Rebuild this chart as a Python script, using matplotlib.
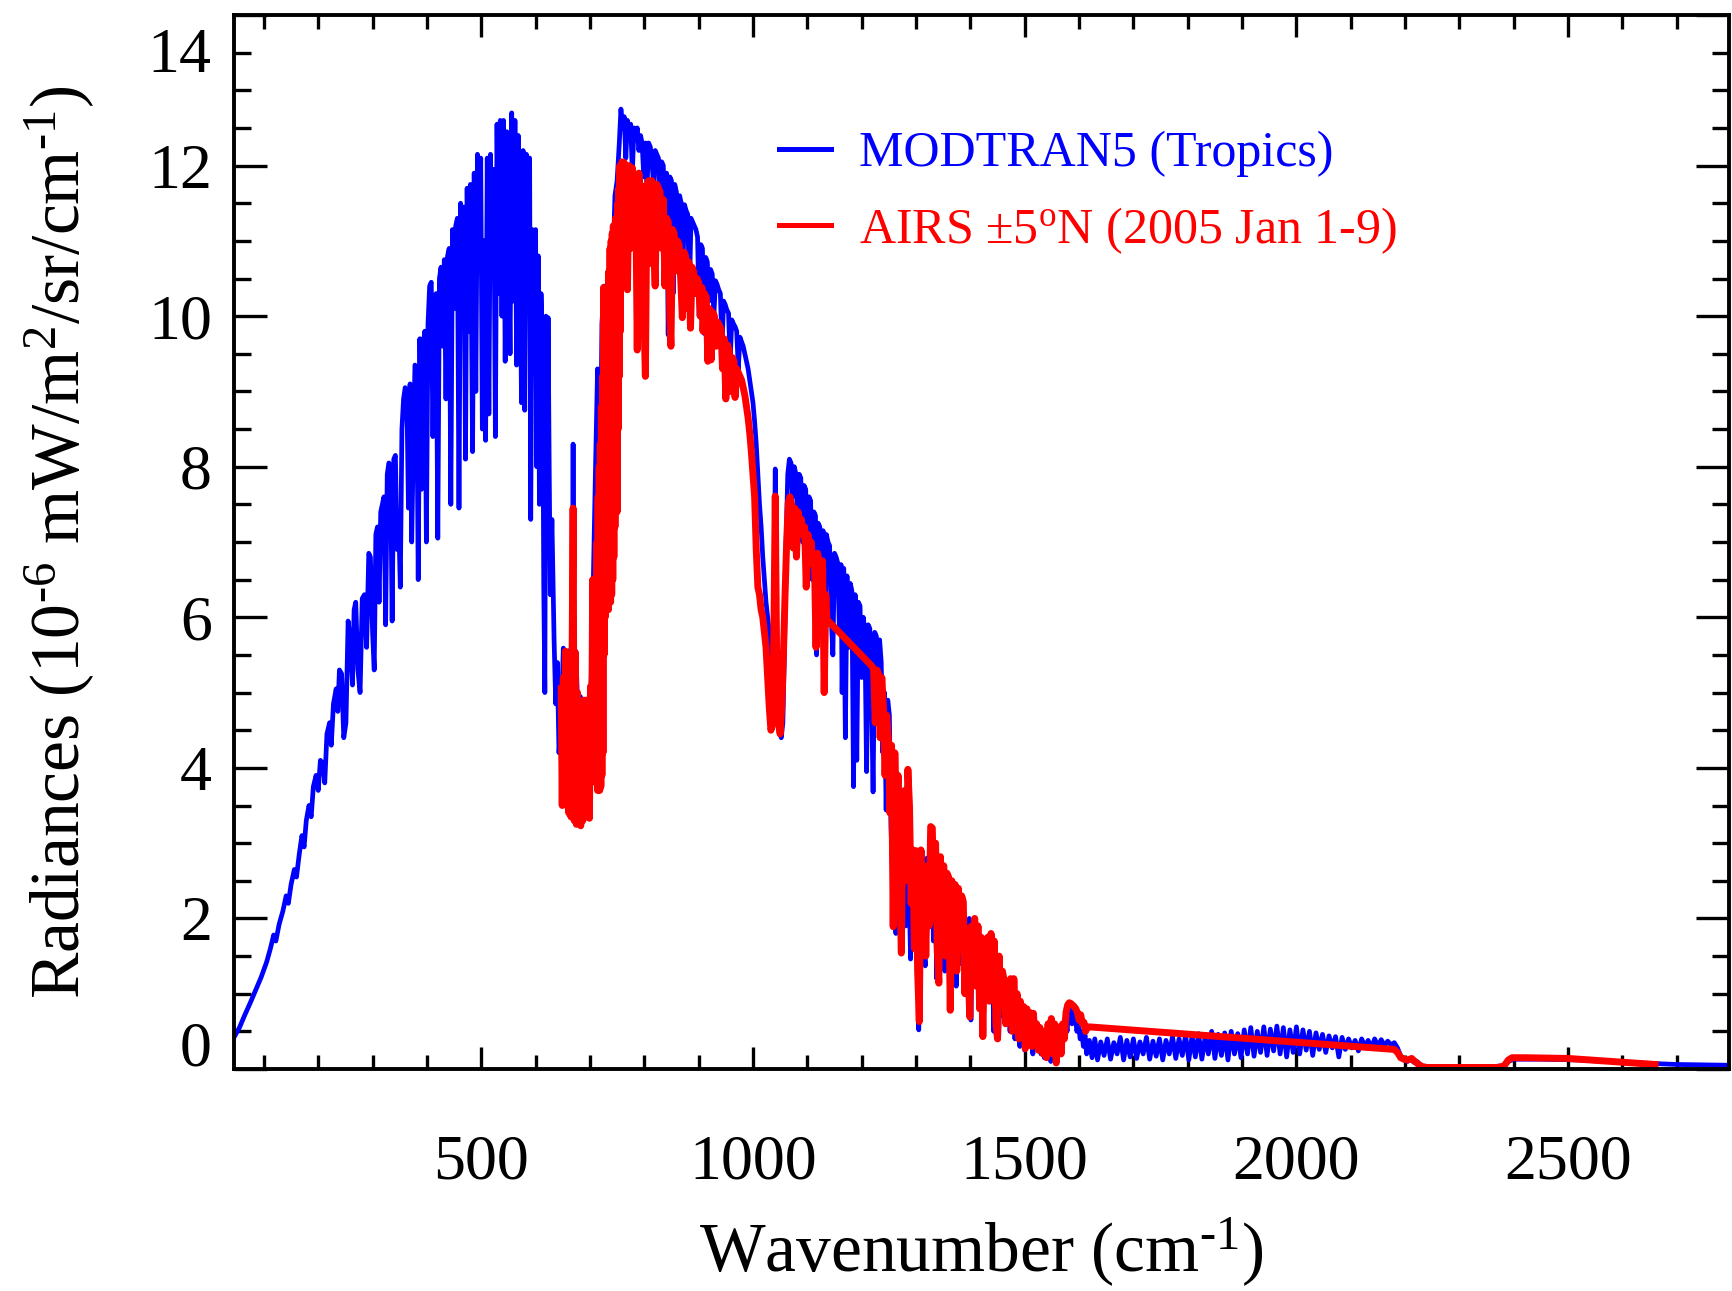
import matplotlib
matplotlib.use('Agg')
import matplotlib.pyplot as plt
from matplotlib.ticker import MultipleLocator
from matplotlib.transforms import ScaledTranslation

plt.rcParams['font.family'] = ['Liberation Serif', 'DejaVu Serif']
plt.rcParams['mathtext.fontset'] = 'custom'
plt.rcParams['mathtext.rm'] = 'Liberation Serif'
plt.rcParams['mathtext.it'] = 'Liberation Serif:italic'
plt.rcParams['mathtext.bf'] = 'Liberation Serif:bold'

# ---------------- data ----------------
modtran_wavenumber = [
    45, 55, 65, 75, 85, 95, 105, 112, 118, 122,
    128, 135, 141, 145, 150, 156, 160, 165, 170, 174,
    178, 183, 187, 191, 196, 200, 204, 209, 212, 216,
    221, 224, 228, 233, 236, 239, 243, 247, 251, 255,
    259, 263, 266, 269, 273, 277, 281, 285, 289, 293,
    296, 300, 303, 306, 309, 312, 315, 318, 321, 324,
    327, 330, 333, 336, 339, 342, 345, 348, 351, 354,
    357, 360, 363, 366, 369, 372, 375, 378, 381, 384,
    387, 390, 393, 396, 399, 402, 405, 408, 411, 414,
    417, 420, 423, 426, 429, 432, 435, 438, 441, 444,
    447, 450, 453, 456, 459, 462, 465, 468, 471, 474,
    477, 480, 484, 487, 490, 493, 496, 499, 502, 505,
    508, 511, 514, 517, 520, 523, 526, 529, 532, 535,
    538, 541, 544, 547, 550, 553, 556, 559, 562, 565,
    568, 571, 574, 577, 580, 583, 586, 589, 591, 594,
    597, 600, 602, 605, 607, 610, 613, 615, 617, 619,
    621, 623, 625, 627, 630, 634, 637, 640, 643, 647,
    651, 656, 660, 664, 667, 669, 671, 674, 678, 682,
    686, 690, 694, 698, 702, 706, 710, 714, 718, 722,
    726, 730, 734, 738, 742, 746, 750, 754, 757, 760,
    763, 766, 769, 772, 775, 778, 781, 784, 787, 790,
    793, 796, 799, 802, 805, 808, 811, 814, 817, 820,
    823, 826, 829, 832, 835, 838, 841, 844, 847, 850,
    853, 856, 859, 862, 865, 868, 871, 874, 877, 880,
    883, 886, 889, 892, 895, 898, 901, 904, 907, 910,
    913, 916, 919, 922, 925, 928, 931, 934, 937, 940,
    943, 946, 949, 952, 955, 958, 961, 964, 967, 970,
    973, 976, 979, 982, 985, 988, 991, 994, 997, 1000,
    1003, 1006, 1009, 1012, 1015, 1018, 1021, 1024, 1027, 1030,
    1033, 1036, 1039, 1041, 1043, 1046, 1049, 1052, 1055, 1058,
    1061, 1064, 1067, 1070, 1073, 1076, 1079, 1082, 1085, 1088,
    1091, 1094, 1097, 1100, 1103, 1106, 1109, 1112, 1115, 1117,
    1120, 1123, 1126, 1129, 1132, 1135, 1138, 1141, 1144, 1147,
    1150, 1153, 1156, 1159, 1162, 1164, 1167, 1170, 1173, 1176,
    1179, 1182, 1185, 1188, 1191, 1194, 1197, 1200, 1203, 1206,
    1209, 1212, 1215, 1218, 1221, 1224, 1227, 1230, 1233, 1236,
    1239, 1242, 1245, 1248, 1251, 1254, 1257, 1260, 1263, 1266,
    1269, 1272, 1275, 1278, 1281, 1284, 1287, 1290, 1293, 1296,
    1299, 1302, 1305, 1308, 1311, 1314, 1317, 1320, 1323, 1326,
    1329, 1332, 1335, 1338, 1341, 1344, 1347, 1350, 1353, 1356,
    1359, 1362, 1365, 1368, 1371, 1374, 1377, 1380, 1383, 1386,
    1389, 1392, 1395, 1398, 1401, 1404, 1407, 1410, 1413, 1416,
    1419, 1422, 1425, 1428, 1431, 1434, 1437, 1440, 1443, 1446,
    1449, 1452, 1455, 1458, 1461, 1464, 1467, 1470, 1473, 1476,
    1479, 1482, 1485, 1488, 1491, 1494, 1497, 1500, 1503, 1506,
    1509, 1512, 1515, 1518, 1521, 1524, 1527, 1530, 1533, 1536,
    1539, 1542, 1545, 1548, 1551, 1554, 1557, 1560, 1563, 1566,
    1569, 1572, 1575, 1578, 1581, 1584, 1587, 1590, 1593, 1596,
    1599, 1602, 1605, 1608, 1611, 1614, 1619, 1624, 1629, 1634,
    1640, 1646, 1652, 1658, 1664, 1670, 1676, 1682, 1688, 1694,
    1700, 1706, 1712, 1718, 1724, 1730, 1736, 1742, 1748, 1754,
    1760, 1766, 1772, 1778, 1784, 1790, 1796, 1802, 1808, 1814,
    1820, 1826, 1832, 1838, 1844, 1850, 1856, 1862, 1868, 1874,
    1880, 1886, 1892, 1898, 1904, 1910, 1916, 1922, 1928, 1934,
    1940, 1946, 1952, 1958, 1964, 1970, 1976, 1982, 1988, 1994,
    2000, 2006, 2012, 2018, 2024, 2030, 2036, 2042, 2048, 2054,
    2060, 2066, 2072, 2078, 2084, 2090, 2096, 2102, 2108, 2114,
    2120, 2126, 2132, 2138, 2144, 2150, 2156, 2162, 2168, 2174,
    2180, 2186, 2192, 2198, 2204, 2210, 2216, 2222, 2230, 2250,
    2300, 2350, 2380, 2390, 2400, 2450, 2520, 2600, 2700, 2796,
]
modtran_radiance = [
    0.42, 0.55, 0.72, 0.88, 1.05, 1.22, 1.42, 1.6, 1.78, 1.7,
    1.92, 2.1, 2.3, 2.2, 2.45, 2.65, 2.55, 2.85, 3.1, 2.95,
    3.3, 3.5, 3.35, 3.75, 3.9, 3.7, 4.1, 4.05, 3.8, 4.45,
    4.6, 4.3, 4.85, 5.05, 4.75, 5.3, 5.25, 4.4, 4.6, 5.95,
    5.7, 5.1, 6.1, 6.2, 5.3, 5.0, 6.25, 6.3, 5.6, 6.85,
    6.8, 5.8, 5.3, 7.1, 7.2, 6.2, 7.4, 7.5, 7.6, 5.9,
    7.9, 8.05, 8.0, 5.95, 8.1, 8.15, 6.9, 7.3, 6.4, 8.5,
    8.9, 9.05, 9.0, 7.45, 9.1, 7.0, 8.3, 9.35, 9.3, 6.5,
    9.7, 7.7, 9.6, 9.8, 7.0, 9.9, 10.4, 10.45, 8.4, 10.2,
    10.3, 7.05, 10.5, 10.65, 9.6, 10.75, 8.9, 10.8, 10.9, 7.5,
    11.15, 10.1, 11.2, 11.3, 7.45, 11.5, 10.4, 11.45, 8.1, 11.7,
    9.8, 11.75, 8.2, 11.9, 9.0, 12.15, 10.6, 12.1, 8.5, 11.0,
    8.35, 12.1, 8.7, 12.15, 10.5, 11.95, 8.4, 12.55, 10.3, 12.6,
    10.0, 12.6, 9.4, 12.45, 11.2, 9.5, 12.7, 10.2, 12.6, 9.35,
    12.4, 11.5, 8.85, 12.2, 8.75, 12.15, 10.9, 12.1, 7.3, 11.15,
    9.6, 11.15, 8.0, 10.8, 7.5, 10.3, 9.4, 6.4, 5.0, 10.0,
    6.9, 9.98, 8.0, 6.3, 7.3, 5.7, 4.85, 5.4, 4.2, 4.6,
    5.59, 5.5, 5.3, 5.57, 5.0, 8.3, 5.2, 5.55, 4.7, 4.95,
    4.1, 4.9, 4.4, 3.9, 5.1, 6.4, 7.9, 9.3, 7.0, 9.9,
    10.4, 9.3, 10.2, 11.0, 10.6, 11.6, 11.8, 12.3, 12.75, 12.5,
    12.65, 12.1, 12.6, 12.45, 12.55, 11.9, 12.5, 12.35, 12.5, 12.2,
    12.4, 12.3, 11.85, 12.3, 11.7, 12.3, 12.25, 12.1, 11.7, 12.2,
    12.15, 12.1, 11.3, 12.05, 12.0, 11.0, 11.9, 9.75, 11.85, 11.8,
    10.3, 11.75, 11.65, 10.9, 11.6, 11.5, 10.6, 11.48, 11.4, 11.35,
    10.3, 11.3, 11.25, 11.2, 11.15, 11.05, 10.0, 10.95, 10.9, 9.77,
    10.78, 10.72, 10.2, 10.62, 10.56, 10.0, 10.47, 10.42, 10.35, 10.3,
    9.6, 10.2, 10.15, 10.08, 10.04, 9.4, 9.95, 9.9, 9.86, 9.8,
    9.3, 9.72, 9.66, 9.6, 9.5, 9.4, 9.3, 9.15, 9.0, 8.85,
    8.6, 8.3, 7.9, 7.5, 7.2, 6.8, 6.5, 6.2, 6.0, 5.8,
    5.3, 5.0, 6.5, 7.97, 6.2, 4.9, 4.5, 4.4, 4.6, 5.6,
    7.0, 7.9, 8.1, 8.05, 7.6, 8.0, 7.9, 7.3, 7.9, 7.85,
    7.0, 7.75, 7.7, 6.8, 7.6, 7.55, 6.5, 7.4, 7.35, 5.5,
    7.25, 7.2, 6.3, 7.15, 5.3, 7.1, 7.0, 6.95, 6.0, 5.5,
    6.85, 6.8, 6.72, 5.8, 6.7, 5.0, 6.65, 4.4, 6.55, 5.6,
    6.45, 6.35, 3.75, 6.3, 4.1, 6.2, 6.15, 5.2, 6.0, 5.8,
    3.95, 5.9, 5.85, 5.0, 3.68, 5.8, 5.75, 4.8, 5.7, 5.4,
    4.2, 5.0, 3.44, 4.9, 4.7, 3.2, 2.6, 4.2, 1.8, 3.6,
    3.4, 2.2, 3.3, 3.35, 1.9, 3.67, 2.5, 1.46, 2.9, 2.8,
    1.8, 2.7, 0.52, 2.0, 2.9, 1.6, 1.37, 2.8, 2.2, 3.1,
    3.2, 1.7, 2.9, 1.2, 2.6, 2.8, 1.5, 2.6, 1.3, 2.5,
    2.4, 0.78, 2.3, 1.9, 2.35, 1.1, 2.3, 2.2, 1.4, 2.2,
    1.5, 1.8, 1.0, 2.0, 0.65, 1.9, 1.95, 1.2, 1.9, 0.8,
    1.7, 0.45, 1.7, 1.3, 1.6, 0.9, 1.7, 1.75, 0.5, 1.5,
    1.4, 0.4, 1.2, 1.1, 0.7, 1.15, 0.8, 1.1, 0.5, 1.0,
    1.05, 0.4, 0.85, 0.6, 0.3, 0.8, 0.7, 0.25, 0.7, 0.3,
    0.6, 0.65, 0.2, 0.55, 0.3, 0.5, 0.56, 0.2, 0.45, 0.15,
    0.4, 0.3, 0.6, 0.1, 0.55, 0.3, 0.1, 0.45, 0.2, 0.5,
    0.3, 0.6, 0.7, 0.5, 0.8, 0.75, 0.6, 0.8, 0.7, 0.5,
    0.6, 0.4, 0.5, 0.3, 0.45, 0.2, 0.38, 0.15, 0.4, 0.12,
    0.36, 0.18, 0.4, 0.13, 0.35, 0.2, 0.42, 0.12, 0.38, 0.16,
    0.4, 0.14, 0.36, 0.2, 0.42, 0.13, 0.37, 0.17, 0.4, 0.12,
    0.38, 0.2, 0.43, 0.14, 0.4, 0.18, 0.45, 0.12, 0.44, 0.16,
    0.47, 0.13, 0.42, 0.2, 0.5, 0.14, 0.46, 0.18, 0.48, 0.12,
    0.5, 0.2, 0.47, 0.15, 0.52, 0.2, 0.55, 0.17, 0.5, 0.22,
    0.56, 0.18, 0.53, 0.24, 0.57, 0.2, 0.55, 0.16, 0.52, 0.22,
    0.56, 0.2, 0.52, 0.25, 0.5, 0.18, 0.48, 0.26, 0.46, 0.22,
    0.44, 0.28, 0.43, 0.16, 0.42, 0.26, 0.4, 0.28, 0.38, 0.24,
    0.4, 0.3, 0.38, 0.28, 0.4, 0.3, 0.39, 0.31, 0.37, 0.32,
    0.35, 0.28, 0.17, 0.12, 0.1, 0.13, 0.09, 0.1, 0.04, 0.03,
    0.03, 0.03, 0.04, 0.1, 0.13, 0.13, 0.12, 0.09, 0.06, 0.05,
]

airs_wavenumber = [
    647, 649, 651, 653, 655, 657, 659, 661, 663, 665,
    667, 669, 671, 673, 675, 677, 679, 681, 683, 685,
    687, 689, 691, 693, 695, 697, 699, 701, 703, 705,
    707, 709, 711, 713, 714, 715, 716, 717, 718, 719,
    720, 721, 722, 723, 724, 725, 726, 727, 728, 729,
    730, 731, 732, 733, 734, 735, 736, 737, 738, 739,
    740, 741, 742, 743, 744, 745, 746, 747, 748, 749,
    750, 751, 752, 753, 754, 755, 756, 757, 758, 759,
    760, 761, 762, 763, 766,
    769, 772, 775, 778, 781, 784, 787, 790, 793, 796,
    799, 802, 805, 808, 811, 814, 817, 820, 823, 826,
    829, 832, 835, 838, 841, 844, 847, 849, 852, 855,
    858, 861, 864, 867, 870, 873, 876, 879, 882, 885,
    888, 891, 894, 897, 900, 903, 906, 908, 911, 914,
    917, 920, 923, 926, 929, 932, 935, 938, 941, 944,
    947, 950, 953, 956, 959, 962, 965, 967, 970, 973,
    976, 979, 982, 985, 988, 991, 994, 997, 1000, 1003,
    1006, 1009, 1012, 1015, 1018, 1021, 1024, 1027, 1030, 1033,
    1035, 1038, 1041, 1044, 1047, 1050, 1053, 1056, 1059, 1062,
    1065, 1068, 1071, 1074, 1077, 1080, 1083, 1086, 1089, 1092,
    1095, 1098, 1101, 1104, 1107, 1110, 1113, 1116, 1119, 1122,
    1125, 1128, 1131, 1134, 1136, 1219, 1222, 1225, 1228, 1231,
    1234, 1237, 1240, 1243, 1246, 1249, 1252, 1255, 1258, 1261,
    1264, 1267, 1270, 1273, 1276, 1279, 1282, 1285, 1288, 1291,
    1294, 1297, 1300, 1303, 1306, 1309, 1312, 1315, 1318, 1321,
    1324, 1327, 1330, 1333, 1336, 1339, 1342, 1345, 1348, 1351,
    1354, 1357, 1360, 1363, 1366, 1369, 1372, 1375, 1378, 1381,
    1384, 1387, 1390, 1393, 1396, 1399, 1402, 1405, 1408, 1411,
    1414, 1417, 1420, 1423, 1426, 1429, 1432, 1435, 1438, 1441,
    1444, 1447, 1450, 1453, 1456, 1459, 1462, 1465, 1468, 1471,
    1474, 1477, 1480, 1483, 1486, 1489, 1492, 1495, 1498, 1501,
    1504, 1507, 1510, 1513, 1516, 1519, 1522, 1525, 1528, 1531,
    1534, 1537, 1540, 1543, 1546, 1549, 1552, 1555, 1558, 1561,
    1564, 1567, 1570, 1573, 1576, 1579, 1582, 1585, 1588, 1591,
    1594, 1597, 1600, 1603, 1606, 1609, 1612, 1615, 1618, 2180,
    2186, 2192, 2198, 2205, 2212, 2218, 2225, 2232, 2240, 2300,
    2370, 2382, 2390, 2397, 2420, 2500, 2580, 2660,
]
airs_radiance = [
    5.05, 3.5, 5.2, 3.6, 5.55, 3.5, 5.4, 3.4, 5.5, 3.35,
    5.3, 7.45, 3.3, 5.53, 3.25, 5.0, 3.28, 4.8, 3.23, 4.5,
    3.3, 4.9, 3.5, 4.9, 3.6, 4.7, 3.33, 5.08, 4.0, 6.5,
    4.2, 5.09, 3.8, 7.0, 3.7, 7.6, 3.8, 8.0, 3.7, 8.3,
    3.75, 8.8, 3.9, 9.2, 4.2, 10.38, 5.5, 9.6, 6.0, 9.8,
    6.1, 9.9, 6.2, 10.2, 6.1, 10.6, 6.3, 10.9, 6.2, 11.0,
    6.3, 11.1, 6.5, 11.2, 6.8, 11.2, 7.2, 11.3, 7.4, 11.3,
    7.4, 11.5, 8.5, 11.7, 9.2, 12.0, 9.8, 11.9, 10.5, 12.05,
    11.0, 12.0, 11.2, 12.04, 11.9,
    10.35, 12.0, 10.9, 11.97, 11.0, 11.85, 9.55, 11.9, 11.5, 11.73,
    10.1, 9.2, 11.75, 11.8, 10.7, 11.8, 11.0, 10.4, 11.75, 11.7,
    11.65, 10.9, 11.55, 10.4, 11.3, 11.25, 10.0, 9.6, 11.15, 11.1,
    10.6, 11.0, 10.95, 10.5, 9.98, 10.85, 10.8, 10.1, 10.72, 9.84,
    10.65, 10.58, 10.3, 10.5, 10.45, 10.0, 10.38, 9.8, 10.3, 10.25,
    9.4, 10.1, 9.42, 10.05, 10.0, 9.6, 9.92, 9.88, 9.83, 9.3,
    9.7, 8.9, 9.62, 9.55, 9.0, 9.45, 9.4, 8.92, 9.3, 9.25,
    9.2, 9.15, 9.05, 8.95, 8.8, 8.65, 8.45, 8.2, 7.9, 7.6,
    6.9, 6.4, 6.3, 6.1, 6.0, 5.8, 5.6, 5.2, 4.8, 4.5,
    4.55, 5.5, 7.61, 5.0, 4.6, 4.45, 4.8, 5.5, 6.3, 7.0,
    7.52, 7.6, 7.5, 6.92, 7.45, 6.8, 7.4, 7.2, 7.3, 7.1,
    7.2, 6.4, 7.1, 6.9, 7.0, 6.7, 6.8, 5.6, 6.85, 6.7,
    6.3, 6.75, 5.0, 6.3, 5.97, 5.35, 5.3, 4.6, 5.3, 5.25,
    4.4, 5.2, 4.8, 3.9, 4.7, 4.4, 3.4, 4.3, 1.89, 4.2,
    3.2, 3.9, 2.5, 1.54, 3.5, 3.7, 2.5, 3.98, 3.49, 2.2,
    2.91, 1.6, 2.9, 1.3, 0.63, 2.91, 2.0, 2.7, 1.5, 2.6,
    1.9, 3.22, 3.2, 2.0, 3.0, 1.6, 1.14, 2.82, 1.9, 2.7,
    1.5, 2.6, 2.55, 0.78, 2.5, 1.6, 2.45, 1.3, 2.4, 1.7,
    2.3, 2.22, 1.0, 1.87, 1.3, 0.69, 1.9, 1.4, 2.0, 1.1,
    1.9, 0.8, 1.75, 0.43, 1.7, 1.2, 1.75, 0.9, 1.8, 1.1,
    1.7, 0.6, 0.4, 1.5, 0.9, 1.3, 1.18, 0.6, 1.15, 0.8,
    1.2, 0.5, 1.2, 0.7, 1.0, 0.4, 0.9, 0.6, 0.83, 0.27,
    0.8, 0.4, 0.75, 0.3, 0.74, 0.4, 0.6, 0.25, 0.55, 0.47,
    0.2, 0.5, 0.15, 0.6, 0.3, 0.67, 0.2, 0.6, 0.08, 0.5,
    0.56, 0.2, 0.6, 0.4, 0.75, 0.85, 0.88, 0.87, 0.85, 0.83,
    0.8, 0.75, 0.65, 0.72, 0.6, 0.62, 0.5, 0.55, 0.56, 0.26,
    0.22, 0.15, 0.13, 0.12, 0.14, 0.1, 0.06, 0.03, 0.02, 0.02,
    0.02, 0.04, 0.12, 0.15, 0.15, 0.14, 0.1, 0.06,
]

x_ticks = [500, 1000, 1500, 2000, 2500]
x_tick_labels = ['500', '1000', '1500', '2000', '2500']
y_ticks = [0, 2, 4, 6, 8, 10, 12, 14]
y_tick_labels = ['0', '2', '4', '6', '8', '10', '12', '14']

series_labels = ['MODTRAN5 (Tropics)', r'AIRS $\pm$5$^{\mathrm{o}}$N (2005 Jan 1-9)']
x_label = r'Wavenumber (cm$^{\text{-1}}$)'
y_label = r'Radiances (10$^{\text{-6}}$ mW/m$^{\text{2}}$/sr/cm$^{\text{-1}}$)'

# ---------------- figure ----------------
W, H = 1732, 1291
fig = plt.figure(figsize=(W / 100, H / 100), dpi=100)
ax_l, ax_r, ax_t, ax_b = 234, 1729, 15, 1069
ax = fig.add_axes([ax_l / W, 1 - ax_b / H, (ax_r - ax_l) / W, (ax_b - ax_t) / H])

ax.plot(modtran_wavenumber, modtran_radiance, color='#0000ff', lw=3.4,
        label=series_labels[0], zorder=2)
ax.plot(airs_wavenumber, airs_radiance, color='#ff0000', lw=5.0,
        label=series_labels[1], zorder=3)

ax.set_xlim(45, 2796)
ax.set_ylim(0, 14)

for sp in ax.spines.values():
    sp.set_linewidth(2.8)
    sp.set_zorder(5)

ax.set_xticks(x_ticks)
ax.set_xticklabels(x_tick_labels)
ax.set_yticks(y_ticks)
ax.set_yticklabels(y_tick_labels)
ax.xaxis.set_minor_locator(MultipleLocator(100))
ax.yaxis.set_minor_locator(MultipleLocator(0.5))

ax.tick_params(axis='both', which='both', direction='in', top=True, right=True,
               width=2.4, colors='black')
ax.tick_params(axis='x', which='major', length=16, pad=47, labelsize=46)
ax.tick_params(axis='x', which='minor', length=10)
ax.tick_params(axis='y', which='major', length=24, pad=16, labelsize=46)
ax.tick_params(axis='y', which='minor', length=12.5)

ax.set_xlabel(x_label, fontsize=50, va='baseline')
ax.xaxis.set_label_coords(0.5, -(1272 - ax_b) / (ax_b - ax_t))
ax.set_ylabel(y_label, fontsize=50, va='baseline')
ax.yaxis.set_label_coords((80 - ax_l) / (ax_r - ax_l), 0.5)

leg = ax.legend(loc='upper left', bbox_to_anchor=(0.3645, 0.89), frameon=False,
                fontsize=36, handlelength=1.05, handletextpad=0.55,
                labelspacing=0.55, borderpad=0, borderaxespad=0,
                labelcolor='linecolor')
for ln in leg.get_lines():
    ln.set_linewidth(3.6)

# end labels of the y axis sit slightly inside the frame in the reference
yt = ax.yaxis.get_major_ticks()
yt[0].label1.set_transform(yt[0].label1.get_transform()
                           + ScaledTranslation(0, 0.25, fig.dpi_scale_trans))
yt[-1].label1.set_transform(yt[-1].label1.get_transform()
                            + ScaledTranslation(0, -0.345, fig.dpi_scale_trans))

fig.savefig('out.png', dpi=100, facecolor='white')
